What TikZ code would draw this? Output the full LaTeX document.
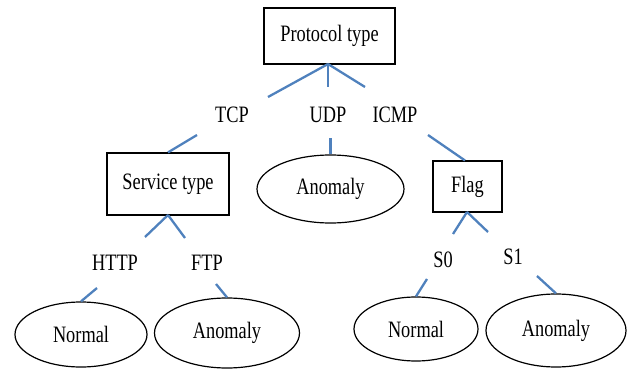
\documentclass[tikz,border=0pt]{standalone}
\usepackage{fontspec}
\setmainfont[FakeStretch=0.78]{Liberation Serif}
\usetikzlibrary{shapes.geometric}
\definecolor{linkblue}{RGB}{79,129,189}
\begin{document}
\begin{tikzpicture}[x=1pt,y=-1pt,
  every node/.style={font=\fontsize{23.5}{26}\selectfont, inner sep=0pt},
  boxnode/.style={draw=black, line width=1.2pt, rectangle},
  ovalnode/.style={draw=black, line width=1.2pt, ellipse},
  lbl/.style={},
  conn/.style={draw=linkblue, line width=2.3pt}]
\useasboundingbox (0,0) rectangle (627,369);
% nodes
\node[boxnode, minimum width=131pt, minimum height=56pt] (proto) at (329.5,36) {Protocol type};
\node[lbl] (tcp) at (232,115) {TCP};
\node[lbl] (udp) at (328,115) {UDP};
\node[lbl] (icmp) at (395,115) {ICMP};
\node[boxnode, minimum width=122pt, minimum height=62pt] (service) at (168,184) {Service type};
\node[ovalnode, minimum width=147pt, minimum height=68pt] (anomU) at (330.5,189) {Anomaly};
\node[boxnode, minimum width=69pt, minimum height=51pt] (flag) at (467.5,186.5) {Flag};
\node[lbl] (http) at (115,263) {HTTP};
\node[lbl] (ftp) at (207,263) {FTP};
\node[lbl] (s0) at (443,260) {S0};
\node[lbl] (s1) at (513,257) {S1};
\node[ovalnode, minimum width=132pt, minimum height=65pt] (normL) at (81,334.5) {Normal};
\node[ovalnode, minimum width=145pt, minimum height=70pt] (anomL) at (227,333) {Anomaly};
\node[ovalnode, minimum width=124pt, minimum height=64pt] (normR) at (416,329) {Normal};
\node[ovalnode, minimum width=140pt, minimum height=73pt] (anomR) at (556,330.5) {Anomaly};
% connector free ends
\coordinate (pTop) at (328,64);
\coordinate (cTcpA) at (268,97);
\coordinate (cUdpA) at (328,87);
\coordinate (cIcmpA) at (365,87);
\coordinate (cTcpB) at (197,135);
\coordinate (cUdpB) at (330.5,138);
\coordinate (cIcmpB) at (428,135);
\coordinate (cIcmpC) at (465,160.5);
\coordinate (sBot) at (168,215);
\coordinate (cHttpA) at (145,237);
\coordinate (cFtpA) at (185,238);
\coordinate (cHttpB) at (97,288);
\coordinate (cFtpB) at (216,284);
\coordinate (fBot) at (467,212);
\coordinate (cS0A) at (453,234);
\coordinate (cS1A) at (488,232);
\coordinate (cS0B) at (427,279);
\coordinate (cS1B) at (537,276);
% connectors
\draw[conn] (pTop) -- (cTcpA);
\draw[conn] (pTop) -- (cUdpA);
\draw[conn] (pTop) -- (cIcmpA);
\draw[conn] (cTcpB) -- (service.north);
\draw[conn] (cUdpB) -- (anomU.north);
\draw[conn] (cIcmpB) -- (cIcmpC);
\draw[conn] (sBot) -- (cHttpA);
\draw[conn] (sBot) -- (cFtpA);
\draw[conn] (cHttpB) -- (normL.north);
\draw[conn] (cFtpB) -- (anomL.north);
\draw[conn] (fBot) -- (cS0A);
\draw[conn] (fBot) -- (cS1A);
\draw[conn] (cS0B) -- (normR.north);
\draw[conn] (cS1B) -- (anomR.north);
\end{tikzpicture}
\end{document}
